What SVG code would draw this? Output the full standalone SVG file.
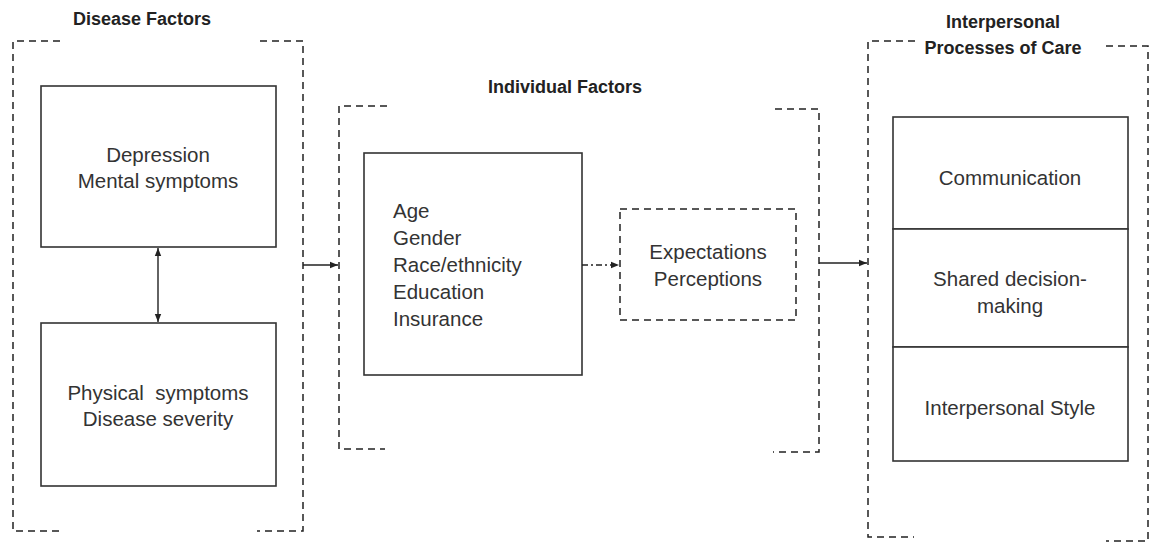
<svg xmlns="http://www.w3.org/2000/svg" width="1149" height="543" viewBox="0 0 1149 543">
<defs>
<style>
.t{font-family:"Liberation Sans",Arial,sans-serif;font-size:20.5px;fill:#333}
.h{font-family:"Liberation Sans",Arial,sans-serif;font-size:18px;font-weight:bold;fill:#222}
.box{fill:#fff;stroke:#333;stroke-width:1.6}
.dash{fill:none;stroke:#222;stroke-width:1.5;stroke-dasharray:7,5}
.ln{fill:none;stroke:#222;stroke-width:1.4}
</style>
<marker id="ah" viewBox="0 0 10 10" refX="10" refY="5" markerWidth="8" markerHeight="8" orient="auto-start-reverse" markerUnits="userSpaceOnUse">
<path d="M0,1 L10,5 L0,9 Z" fill="#222"/>
</marker>
</defs>
<rect width="1149" height="543" fill="#fff"/>

<g id="disease-factors">
<text class="h" x="142" y="25" text-anchor="middle">Disease Factors</text>
<path class="dash" d="M60,41 H13 V531 H60"/>
<path class="dash" d="M260,41 H303 V531 H257"/>
</g>
<g id="depression">
<rect class="box" x="41" y="86" width="235" height="161"/>
<text class="t" x="158" y="162" text-anchor="middle">Depression</text>
<text class="t" x="158" y="188" text-anchor="middle">Mental symptoms</text>
</g>
<g id="physical">
<rect class="box" x="41" y="323" width="235" height="163"/>
<text class="t" x="158" y="400" text-anchor="middle" xml:space="preserve">Physical  symptoms</text>
<text class="t" x="158" y="426" text-anchor="middle">Disease severity</text>
</g>

<g id="individual-factors">
<text class="h" x="565" y="93" text-anchor="middle">Individual Factors</text>
<path class="dash" d="M387,106 H339 V449 H385"/>
<path class="dash" d="M775,109 H819 V452 H773"/>
</g>
<g id="demographics">
<rect class="box" x="364" y="153" width="218" height="222"/>
<text class="t" x="393" y="218">Age</text>
<text class="t" x="393" y="245">Gender</text>
<text class="t" x="393" y="272">Race/ethnicity</text>
<text class="t" x="393" y="299">Education</text>
<text class="t" x="393" y="326">Insurance</text>
</g>
<g id="expectations">
<rect x="620" y="209" width="176" height="111" fill="#fff" stroke="#222" stroke-width="1.5" stroke-dasharray="7,5"/>
<text class="t" x="708" y="259" text-anchor="middle">Expectations</text>
<text class="t" x="708" y="286" text-anchor="middle">Perceptions</text>
</g>

<g id="interpersonal-processes">
<text class="h" x="1003" y="28" text-anchor="middle">Interpersonal</text>
<text class="h" x="1003" y="54" text-anchor="middle">Processes of Care</text>
<path class="dash" d="M915,41 H868 V537 H914"/>
<path class="dash" d="M1106,46 H1148 V541 H1106"/>
</g>
<g id="communication">
<rect class="box" x="893" y="117" width="235" height="112"/>
<text class="t" x="1010" y="185" text-anchor="middle">Communication</text>
</g>
<g id="shared-decision">
<rect class="box" x="893" y="229" width="235" height="118"/>
<text class="t" x="1010" y="286" text-anchor="middle">Shared decision-</text>
<text class="t" x="1010" y="313" text-anchor="middle">making</text>
</g>
<g id="interpersonal-style">
<rect class="box" x="893" y="347" width="235" height="114"/>
<text class="t" x="1010" y="415" text-anchor="middle">Interpersonal Style</text>
</g>

<g id="connectors">
<line class="ln" x1="158" y1="248" x2="158" y2="322" marker-start="url(#ah)" marker-end="url(#ah)"/>
<line class="ln" x1="303" y1="265" x2="338" y2="265" marker-end="url(#ah)"/>
<line class="ln" x1="582" y1="265" x2="619" y2="265" stroke-dasharray="6,3,2,3" marker-end="url(#ah)"/>
<line class="ln" x1="819" y1="263" x2="867" y2="263" marker-end="url(#ah)"/>
</g>
</svg>
